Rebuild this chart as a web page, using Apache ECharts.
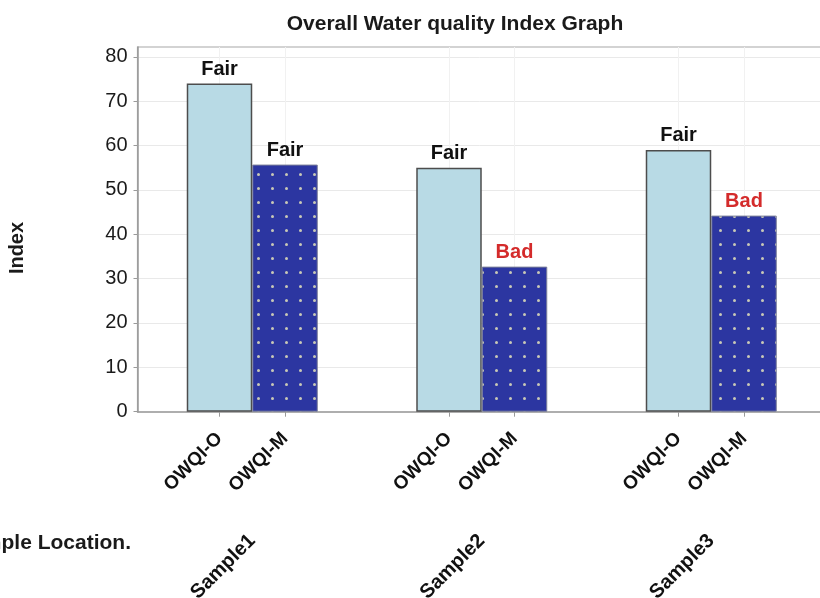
<!DOCTYPE html>
<html>
<head>
<meta charset="utf-8">
<script src="https://cdn.jsdelivr.net/npm/echarts@6/dist/echarts.min.js"></script>
<style>
  html, body { margin: 0; padding: 0; background: #ffffff; }
  #chart { width: 820px; height: 598px; }
</style>
</head>
<body>
<div id="chart"></div>
<script>
// ---- data ----
const samples = ['Sample1', 'Sample2', 'Sample3'];
const seriesNames = ['OWQI-O', 'OWQI-M'];
const owqiO = [74, 55, 59];
const owqiM = [55.7, 32.7, 44.2];
const ratingO = ['Fair', 'Fair', 'Fair'];
const ratingM = ['Fair', 'Bad', 'Bad'];
const yTicks = [0, 10, 20, 30, 40, 50, 60, 70, 80];

// ---- layout / style constants ----
const FONT = '"Liberation Sans", Arial, Helvetica, sans-serif';
const GRID_LEFT = 137.5, GRID_TOP = 47, GRID_W = 688.5, GRID_BOTTOM = 186.3;
const X_MIN = 0.5, X_MAX = 3.5;
const BAR_W = 65.5;
const unitPx = GRID_W / (X_MAX - X_MIN);
const half = (BAR_W / 2) / unitPx;
const ratingColor = { Fair: '#111111', Bad: '#d42b2b' };

const sampleX = samples.map((s, i) => i + 1);
const barTickValues = [];
sampleX.forEach(x => { barTickValues.push(x - half, x + half); });

function owqiLabel(v) {
  let best = 0, d = Infinity;
  barTickValues.forEach((t, i) => { if (Math.abs(t - v) < d) { d = Math.abs(t - v); best = i; } });
  return seriesNames[best % 2];
}
function sampleLabel(v) {
  const i = Math.round(v) - 1;
  return samples[i] || '';
}

// dotted pattern for OWQI-M bars
const pat = document.createElement('canvas');
pat.width = 14; pat.height = 14;
const pctx = pat.getContext('2d');
pctx.fillStyle = '#2c36a1';
pctx.fillRect(0, 0, 14, 14);
pctx.fillStyle = '#c8c8b6';
pctx.beginPath();
pctx.arc(6.5, 6.5, 1.5, 0, Math.PI * 2);
pctx.fill();

function makeData(vals, ratings) {
  return vals.map((v, i) => ({
    value: [sampleX[i], v],
    label: { color: ratingColor[ratings[i]], formatter: ratings[i] }
  }));
}

const chart = echarts.init(document.getElementById('chart'), null, { renderer: 'canvas' });
chart.setOption({
  animation: false,
  backgroundColor: '#ffffff',
  textStyle: { fontFamily: FONT },
  title: {
    text: 'Overall Water quality Index Graph',
    left: 450, top: 9, textAlign: 'center',
    textStyle: { fontFamily: FONT, fontSize: 21, fontWeight: 'bold', color: '#1a1a1a' }
  },
  grid: {
    left: GRID_LEFT, top: GRID_TOP, width: GRID_W, bottom: GRID_BOTTOM,
    show: true, borderColor: '#a8a8a8', borderWidth: 1.2, backgroundColor: 'transparent',
    containLabel: false, outerBoundsMode: 'none'
  },
  xAxis: [
    {
      type: 'value', min: X_MIN, max: X_MAX, position: 'bottom',
      axisLine: { show: true, lineStyle: { color: '#9a9a9a', width: 1.5 } },
      axisTick: { show: true, customValues: barTickValues, length: 5, lineStyle: { color: '#9a9a9a' } },
      axisLabel: {
        show: true, customValues: barTickValues, rotate: 45, margin: 24,
        fontFamily: FONT, fontSize: 19, fontWeight: 'bold', color: '#111',
        formatter: v => owqiLabel(v)
      },
      splitLine: { show: true, lineStyle: { color: '#f1f1f1', width: 1 } }
    },
    {
      type: 'value', min: X_MIN, max: X_MAX, position: 'bottom', offset: 102,
      axisLine: { show: false },
      axisTick: { show: false, customValues: sampleX },
      axisLabel: {
        show: true, customValues: sampleX, rotate: 45, margin: 24,
        fontFamily: FONT, fontSize: 20, fontWeight: 'bold', color: '#111',
        formatter: v => sampleLabel(v)
      },
      splitLine: { show: false }
    }
  ],
  yAxis: {
    type: 'value', min: 0, max: 82.2, interval: 10,
    axisLine: { show: true, lineStyle: { color: '#9a9a9a', width: 1.5 } },
    axisTick: { show: true, inside: false, length: 4, customValues: yTicks, lineStyle: { color: '#9a9a9a' } },
    axisLabel: {
      customValues: yTicks, margin: 10,
      fontFamily: FONT, fontSize: 20, color: '#1a1a1a'
    },
    splitLine: { show: true, lineStyle: { color: '#e9e9e9', width: 1 } }
  },
  series: [
    {
      name: seriesNames[0], type: 'bar', xAxisIndex: 0,
      barWidth: BAR_W, barGap: '0%',
      data: makeData(owqiO, ratingO),
      itemStyle: { color: '#b8dae5', borderColor: '#4d4d4d', borderWidth: 1.5 },
      label: { show: true, position: 'top', distance: 4, fontFamily: FONT, fontSize: 20, fontWeight: 'bold' },
      z: 2
    },
    {
      name: seriesNames[1], type: 'bar', xAxisIndex: 0,
      barWidth: BAR_W, barGap: '0%',
      data: makeData(owqiM, ratingM),
      itemStyle: { color: { image: pat, repeat: 'repeat' }, borderColor: '#7a7e98', borderWidth: 1 },
      label: { show: true, position: 'top', distance: 4, fontFamily: FONT, fontSize: 20, fontWeight: 'bold' },
      z: 2
    }
  ],
  graphic: [
    {
      type: 'text', x: 17, y: 248, rotation: Math.PI / 2,
      style: {
        text: 'Index', fill: '#1a1a1a', font: 'bold 20px ' + FONT,
        textAlign: 'center', textVerticalAlign: 'middle', align: 'center', verticalAlign: 'middle'
      }
    },
    {
      type: 'text', x: 131, y: 543,
      style: {
        text: 'Sample Location.', fill: '#1a1a1a', font: 'bold 21px ' + FONT,
        textAlign: 'right', textVerticalAlign: 'middle', align: 'right', verticalAlign: 'middle'
      }
    }
  ]
});
</script>
</body>
</html>
